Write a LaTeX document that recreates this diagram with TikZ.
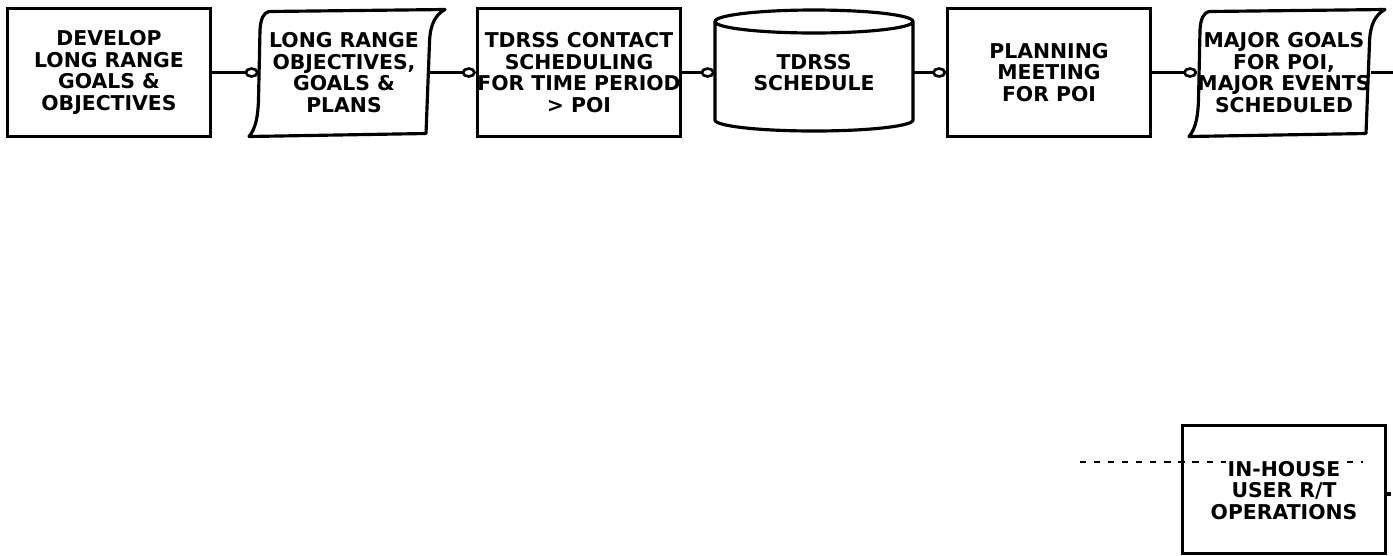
\documentclass[tikz,border=0pt]{standalone}
\usepackage{fontspec}
\setmainfont{DejaVu Sans}
\usepackage{tikz}
\usetikzlibrary{arrows.meta,positioning}

\newcommand{\boxfont}{\fontsize{11.6}{12.4}\selectfont\bfseries}

\tikzset{
  procbox/.style={draw, line width=1.8pt, minimum width=4.05cm, minimum height=2.55cm,
    align=center, inner sep=0pt, font=\boxfont},
  docbox/.style={minimum width=3.4cm, minimum height=2.5cm, align=center, inner sep=0pt,
    font=\boxfont},
  storebox/.style={minimum width=3.96cm, minimum height=2.4cm, align=center, inner sep=0pt,
    font=\boxfont},
  conn/.style={line width=1.5pt, ->},
  dashconn/.style={line width=1pt, dash pattern=on 3.5pt off 4.5pt}
}

% wavy document outline round a named node
\newcommand{\docoutline}[1]{%
  \draw[line width=1.8pt, line join=round, shift={(#1.center)}]
    (-1.5,1.22) -- (2.02,1.26)
    .. controls (1.82,1.15) and (1.72,0.95) .. (1.71,0.6)
    -- (1.64,-1.22) -- (-1.9,-1.28)
    .. controls (-1.76,-1.12) and (-1.72,-0.85) .. (-1.71,-0.55)
    -- (-1.68,0.85) .. controls (-1.67,1.08) and (-1.6,1.2) .. (-1.5,1.22) -- cycle;}

% cylinder outline round a named node
\newcommand{\storeoutline}[1]{%
  \draw[line width=1.8pt, shift={(#1.center)}]
    (0,1.02) ellipse [x radius=1.98, y radius=0.23]
    (-1.98,1.02) -- (-1.98,-0.95)
    arc [start angle=180, end angle=360, x radius=1.98, y radius=0.22]
    -- (1.98,1.02);}

\begin{document}
\begin{tikzpicture}[>={Circle[open,length=8pt,width=6pt]}]
\useasboundingbox (0,0) rectangle (27.86,-11.1);

% top row
\node[procbox] (dev) at (2.18,-1.45) {DEVELOP\\LONG RANGE\\GOALS \&\\OBJECTIVES};
\node[docbox, right of=dev, node distance=4.7cm] (lro) {LONG RANGE\\OBJECTIVES,\\GOALS \&\\PLANS};
\node[procbox, right of=lro, node distance=4.7cm] (tcs) {TDRSS CONTACT\\SCHEDULING\\FOR TIME PERIOD\\> POI};
\node[storebox, right of=tcs, node distance=4.7cm] (tsch) {TDRSS\\SCHEDULE};
\node[procbox, right of=tsch, node distance=4.7cm] (pm) {PLANNING\\MEETING\\FOR POI};
\node[docbox, right of=pm, node distance=4.7cm] (mg) {MAJOR GOALS\\FOR POI,\\MAJOR EVENTS\\SCHEDULED};
\coordinate[right of=mg, node distance=2.18cm] (mgout);

\docoutline{lro}
\docoutline{mg}
\storeoutline{tsch}

\draw[conn] (dev.east) -- (lro.west);
\draw[conn] (lro.east) -- (tcs.west);
\draw[conn] (tcs.east) -- (tsch.west);
\draw[conn] (tsch.east) -- (pm.west);
\draw[conn] (pm.east) -- (mg.west);
\draw[line width=1.5pt] (mg.east) -- (mgout);

% in-house operations
\node[procbox, below of=mg, node distance=8.34cm] (ih) {};
\coordinate (dashin) at (21.6,-9.24);
\coordinate (dashend) at (27.26,-9.24);
\draw[dashconn] (dashin) -- (dashend);
\node[font=\boxfont, align=center, inner sep=0pt] (ihtext) at (ih)
  {{\fboxsep=1pt\colorbox{white}{IN-HOUSE}}\\USER R/T\\OPERATIONS};
\coordinate (ihout) at (27.82,-9.88);
\draw[line width=1.8pt] (ih.east |- ihout) -- (ihout);
\end{tikzpicture}
\end{document}
